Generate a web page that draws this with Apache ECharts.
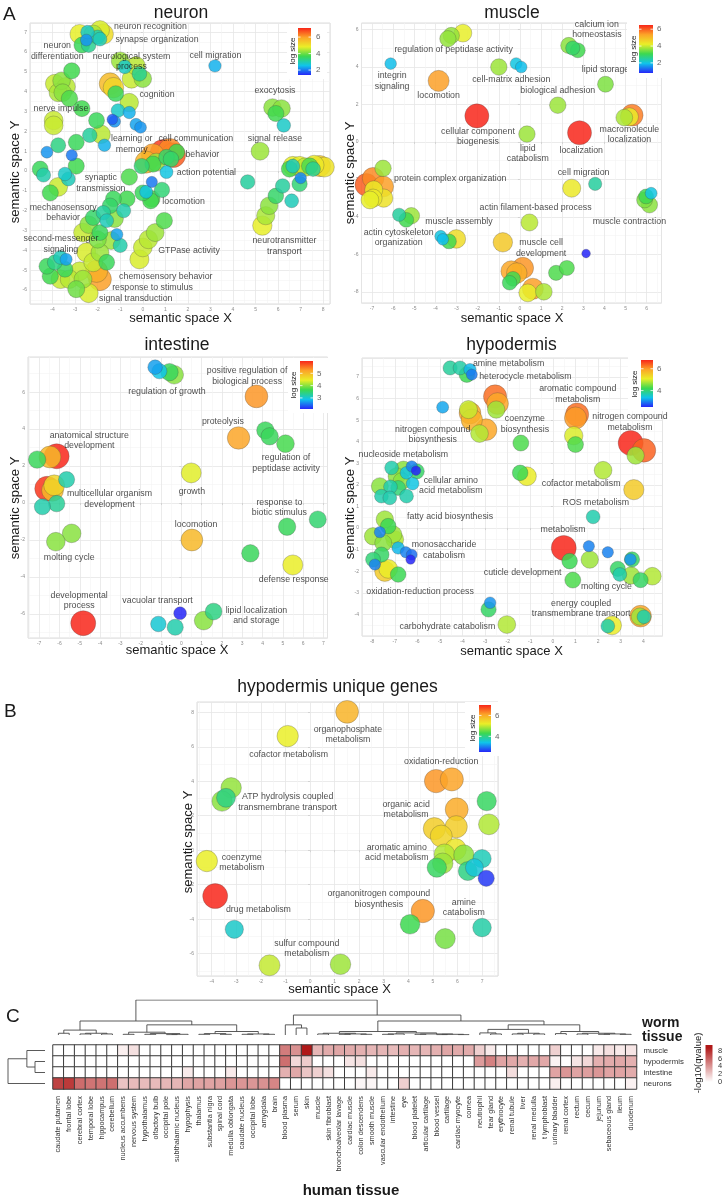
<!DOCTYPE html>
<html><head><meta charset="utf-8">
<script src="https://cdn.jsdelivr.net/npm/echarts/dist/echarts.min.js"></script>
<style>html,body{margin:0;padding:0;background:#fff}#c{width:723px;height:1199px}</style>
</head><body><div id="c"></div>
<script>
// ---------------- DATA ----------------
// semantic-space bubbles: [x, y, log size]
const neuronPoints = [
[-2.8,6.9,4.8],[-1.9,7.1,4.7],[-1.75,6.9,5.1],[-2.0,6.75,3.0],[-2.5,6.6,2.2],[-2.45,7.0,2.8],[-2.7,6.35,3.6],[-2.4,6.35,3.2],[-1.9,6.65,2.9],[-2.2,6.9,4.4],
[-1.0,5.55,4.3],[-0.8,5.25,2.8],[-0.15,4.9,3.2],[-0.5,4.65,4.6],[0.0,4.65,4.2],[-0.3,5.3,4.5],
[-3.15,5.05,3.7],[-3.9,4.4,4.6],[-3.6,4.55,4.2],[-3.4,4.25,4.5],[-3.55,3.95,4.2],[-3.25,3.65,3.8],[-3.75,3.95,4.4],
[-1.45,4.4,5.6],[-1.3,4.2,5.2],[-1.2,3.9,3.6],[-0.6,3.45,4.5],[-1.1,3.05,2.8],[-0.6,2.95,2.4],[-1.35,2.6,1.8],[-1.25,2.5,2.2],[-0.3,2.35,2.3],[-0.1,2.2,2.2],
[-2.7,3.15,3.7],[-3.95,2.55,4.6],[-3.95,2.3,4.6],[-2.05,2.55,3.6],[-1.85,1.85,4.5],[-2.35,1.8,3.1],[-2.95,1.45,3.6],[-3.75,1.3,3.3],[-4.25,0.95,2.2],[-3.15,0.8,2.0],[-1.7,1.3,2.4],
[0.45,0.8,6.0],[0.9,0.95,6.9],[1.35,0.8,6.6],[1.2,1.05,6.2],[0.15,0.45,5.7],[0.6,0.45,4.3],[1.05,0.7,3.5],[1.5,0.95,3.7],[-0.05,0.25,3.4],[0.45,0.35,3.7],[1.05,-0.05,2.6],[1.25,0.6,3.5],
[-4.55,0.1,3.6],[-4.4,-0.2,3.0],[-2.95,0.25,3.7],[-3.45,-0.15,2.8],[-3.3,-0.4,2.9],[-3.75,-0.8,4.6],[-4.1,-1.1,3.7],[-0.6,-0.3,3.8],
[0.4,-0.55,2.0],[0.15,-1.05,2.6],[0.85,-0.95,3.4],[0.0,-1.1,3.6],[0.4,-1.4,3.8],[0.35,-1.5,3.7],
[6.65,0.25,4.8],[6.95,0.25,4.8],[7.85,0.25,5.4],[8.05,0.2,5.0],[7.4,0.25,3.8],[6.65,0.25,2.9],[7.0,-0.35,2.1],[6.5,0.1,3.7],[7.55,0.1,3.2],[6.2,-0.75,3.1],[5.9,-1.25,3.5],[6.6,-1.5,2.9],[5.6,-1.75,4.2],[5.45,-2.25,4.4],[5.3,-2.75,4.8],[6.95,-0.65,3.4],[7.6,0.3,4.9],[7.2,0.2,4.5],
[5.75,3.2,4.2],[6.15,3.15,4.2],[5.9,2.9,3.7],[6.25,2.3,2.8],[5.2,1.0,4.3],[4.65,-0.55,3.1],[3.2,5.3,2.4],
[-1.3,-1.4,3.6],[-0.7,-1.4,3.7],[-1.45,-1.75,3.5],[-1.75,-2.1,3.1],[-0.85,-2.0,3.0],[-1.25,-2.4,4.2],[-2.2,-2.35,3.5],[-2.4,-2.7,4.2],[-1.6,-2.5,2.9],[-1.9,-3.1,3.6],[-2.65,-3.1,4.6],[-1.15,-3.2,2.3],[-1.0,-3.75,3.0],[-1.4,-3.5,4.3],[-2.0,-3.45,4.1],[-2.5,-4.1,4.7],[-1.9,-4.1,4.3],[-1.6,-4.6,3.6],[-3.4,-4.45,2.3],[-3.65,-4.35,2.9],[-3.9,-4.6,3.3],[-4.25,-4.8,3.6],[-4.1,-5.3,3.7],[-3.65,-5.45,4.6],[-3.45,-4.95,3.6],[-2.8,-5.05,4.6],[-3.25,-5.45,4.5],[-2.95,-5.95,4.0],[-2.4,-6.15,4.7],[-1.9,-5.45,6.0],[-2.05,-5.05,5.8],[-2.2,-4.6,4.6],[-2.65,-5.45,4.3],
[0.95,-2.5,3.8],[0.55,-3.1,4.3],[0.25,-3.45,4.5],[0.0,-3.85,4.6],[-0.15,-4.45,4.7]
];
const neuronLabels = [
[0.34,7.26,'neuron recognition'],[0.63,6.63,'synapse organization'],[-3.79,6.04,'neuron\ndifferentiation'],[-0.5,5.52,'neurological system\nprocess'],[3.22,5.82,'cell migration'],[5.86,4.06,'exocytosis'],[0.63,3.84,'cognition'],[-3.63,3.16,'nerve impulse'],[-0.49,1.36,'learning or\nmemory'],[2.35,1.65,'cell communication'],[5.86,1.65,'signal release'],[2.64,0.82,'behavior'],[2.82,-0.1,'action potential'],[-1.86,-0.61,'synaptic\ntransmission'],[-3.53,-2.09,'mechanosensory\nbehavior'],[1.81,-1.55,'locomotion'],[-3.63,-3.69,'second-messenger\nsignaling'],[2.05,-4.02,'GTPase activity'],[6.28,-3.77,'neurotransmitter\ntransport'],[1.02,-5.34,'chemosensory behavior'],[0.43,-5.88,'response to stimulus'],[-0.31,-6.43,'signal transduction']
];
const neuronRange = [1.4, 7.1];
const neuronTicks = [2, 4, 6];

const musclePoints = [
[-3.25,5.68,3.65],[-2.7,5.81,4.2],[-3.41,5.51,3.65],[2.31,5.15,3.6],[2.74,4.89,3.1],[2.5,5.01,2.9],[-6.12,4.18,1.9],[-1.0,4.0,3.7],[-0.18,4.18,2.0],[0.06,4.0,1.9],[-3.85,3.26,5.4],[4.05,3.08,3.5],[1.79,1.96,3.7],[-2.04,1.39,6.5],[5.31,1.43,5.7],[5.18,1.34,4.3],[4.94,1.3,3.8],[0.33,0.42,3.7],[2.82,0.49,6.5],
[-6.95,-1.94,5.6],[-6.48,-2.38,5.4],[-6.48,-1.41,3.7],[-6.92,-2.56,4.3],[-6.95,-3.0,4.3],[-6.45,-3.0,4.4],[-7.27,-2.29,6.0],[-7.1,-3.1,4.2],
[2.45,-2.47,4.3],[3.56,-2.24,2.5],[5.97,-2.91,3.1],[6.13,-3.36,3.6],[6.21,-2.74,2.0],[5.9,-3.1,3.5],[0.45,-4.3,3.9],[-5.14,-3.94,3.7],[-5.72,-3.89,2.5],[-5.38,-4.16,3.1],[-3.01,-5.18,4.5],[-3.36,-5.31,3.1],[-3.75,-5.04,2.0],[-3.65,-5.2,1.9],[-0.81,-5.36,4.8],[3.13,-5.96,0.8],
[-0.41,-6.9,5.3],[0.14,-6.73,5.5],[-0.15,-7.0,5.2],[-0.33,-7.31,3.1],[-0.49,-7.52,3.0],[0.61,-7.84,5.4],[0.37,-8.06,4.2],[1.13,-8.0,3.8],[1.71,-6.99,3.2],[2.22,-6.73,3.2]
];
const muscleLabels = [
[-3.14,4.92,'regulation of peptidase activity'],[3.64,6.0,'calcium ion\nhomeostasis'],[-6.05,3.24,'integrin\nsignaling'],[-0.41,3.34,'cell-matrix adhesion'],[4.05,3.86,'lipid storage'],[-3.85,2.49,'locomotion'],[1.79,2.72,'biological adhesion'],[-1.99,0.28,'cellular component\nbiogenesis'],[0.37,-0.61,'lipid\ncatabolism'],[2.9,-0.47,'localization'],[5.18,0.4,'macromolecule\nlocalization'],[-3.3,-1.98,'protein complex organization'],[3.01,-1.64,'cell migration'],[0.74,-3.48,'actin filament-based process'],[5.18,-4.24,'muscle contraction'],[-2.89,-4.24,'muscle assembly'],[-5.74,-5.1,'actin cytoskeleton\norganization'],[1.0,-5.66,'muscle cell\ndevelopment']
];
const muscleRange = [0.8, 6.5];
const muscleTicks = [2, 4, 6];

const intestinePoints = [
[-1.29,7.35,2.7],[-1.08,7.13,2.9],[-0.58,7.08,3.6],[-0.35,6.94,4.0],[3.7,5.77,5.3],[2.82,3.52,5.2],[4.14,3.93,3.6],[4.35,3.61,3.6],[5.13,3.21,3.7],[-7.1,2.35,3.6],[-6.14,2.53,6.0],[-6.47,2.49,5.0],[0.49,1.63,4.4],[-6.61,0.78,5.9],[-6.34,0.69,5.0],[-6.26,0.96,4.7],[-5.65,1.27,3.2],[-6.84,-0.2,3.2],[-6.14,-0.03,3.3],[6.72,-0.89,3.5],[5.21,-1.28,3.6],[-5.4,-1.64,4.0],[-6.18,-2.09,4.0],[0.52,-2.0,5.0],[3.4,-2.72,3.6],[5.49,-3.35,4.45],[-4.83,-6.5,6.0],[-0.06,-5.96,2.1],[-1.13,-6.54,3.0],[-0.3,-6.72,3.2],[1.1,-6.36,4.0],[1.59,-5.87,3.4]
];
const intestineLabels = [
[-0.71,6.04,'regulation of growth'],[3.24,6.86,'positive regulation of\nbiological process'],[2.05,4.42,'proteolysis'],[-4.53,3.39,'anatomical structure\ndevelopment'],[5.16,2.17,'regulation of\npeptidase activity'],[0.52,0.64,'growth'],[-3.54,0.21,'multicellular organism\ndevelopment'],[4.83,-0.24,'response to\nbiotic stimulus'],[0.73,-1.14,'locomotion'],[-5.52,-2.96,'molting cycle'],[5.54,-4.16,'defense response'],[-5.03,-5.28,'developmental\nprocess'],[-1.17,-5.3,'vacuolar transport'],[3.7,-6.09,'lipid localization\nand storage']
];
const intestineRange = [2.1, 6.0];
const intestineTicks = [3, 4, 5];

const hypodermisPoints = [
[-4.55,7.42,3.8],[-4.11,7.42,3.75],[-3.81,7.11,4.2],[-3.67,7.34,3.3],[-3.59,7.11,2.95],[-4.88,5.6,3.2],
[-2.56,6.1,6.3],[-2.45,5.77,5.9],[-2.51,5.49,4.7],[-3.67,5.33,5.9],[-3.74,5.49,4.9],[-3.59,5.02,5.8],[-2.96,4.56,5.9],[-3.25,4.38,4.8],[-1.42,3.94,4.3],
[1.07,5.26,6.3],[1.0,5.1,6.0],[0.92,4.28,5.0],[1.0,3.87,4.3],[3.44,3.94,6.8],[4.03,3.6,6.4],[3.66,3.36,4.7],
[-7.14,2.79,3.7],[-6.62,2.71,4.6],[-6.25,2.86,3.0],[-6.03,2.63,4.1],[-6.06,2.66,2.5],[-6.48,2.56,3.4],[-6.92,2.4,4.6],[-6.21,2.06,3.4],[-7.66,1.94,4.6],[-7.19,1.91,3.7],[-7.59,1.48,3.7],[-7.22,1.4,3.7],[-6.85,1.86,4.0],[-6.48,1.48,3.7],[-6.7,2.17,4.6],
[-1.45,2.56,4.2],[-1.15,2.4,5.1],[2.22,2.68,4.8],[3.58,1.78,5.5],[1.78,0.52,3.7],
[-7.44,0.4,4.7],[-7.29,0.09,4.2],[-7.96,-0.38,4.7],[-7.66,-0.19,3.0],[-7.07,-0.3,4.7],[-7.0,-0.53,4.8],[-7.51,-0.69,4.6],[-6.85,-0.92,3.3],[-6.51,-1.12,3.0],[-6.3,-1.46,2.5],[-6.25,-1.23,2.9],[-7.59,-1.23,4.1],[-7.96,-1.46,4.0],[-7.88,-1.69,3.0],[-7.44,-2.0,5.5],[-6.85,-2.15,4.2],[-7.29,-1.89,5.1],
[0.48,-0.92,6.8],[1.59,-0.84,3.0],[2.43,-1.12,3.0],[0.74,-1.53,4.2],[1.63,-1.46,4.7],[0.88,-2.41,4.3],
[3.5,-1.45,4.1],[3.43,-1.45,3.1],[2.87,-1.89,4.1],[2.96,-2.15,3.7],[3.46,-2.2,4.7],[3.88,-2.41,4.1],[4.4,-2.23,4.8],
[-2.78,-3.46,3.1],[-2.85,-3.77,4.1],[-2.04,-4.47,4.8],
[3.88,-4.08,5.9],[3.85,-4.1,4.7],[4.03,-4.11,3.7],[2.62,-4.51,5.1],[2.43,-4.54,3.7]
];
const hypodermisLabels = [
[-1.96,7.62,'amine metabolism'],[-1.22,7.0,'heterocycle metabolism'],[1.1,6.21,'aromatic compound\nmetabolism'],[-1.24,4.82,'coenzyme\nbiosynthesis'],[-5.32,4.33,'nitrogen compound\nbiosynthesis'],[3.41,4.92,'nitrogen compound\nmetabolism'],[-6.62,3.4,'nucleoside metabolism'],[-4.52,1.97,'cellular amino\nacid metabolism'],[1.25,2.05,'cofactor metabolism'],[1.9,1.17,'ROS metabolism'],[-4.55,0.55,'fatty acid biosynthesis'],[0.45,-0.07,'metabolism'],[-4.82,-1.02,'monosaccharide\ncatabolism'],[-1.34,-2.04,'cuticle development'],[2.37,-2.72,'molting cycle'],[-5.88,-2.92,'oxidation-reduction process'],[1.25,-3.73,'energy coupled\ntransmembrane transport'],[-4.67,-4.54,'carbohydrate catabolism']
];
const hypodermisRange = [2.5, 6.8];
const hypodermisTicks = [4, 6];

const uniquePoints = [
[1.51,8.03,5.9],[-0.91,6.62,5.2],[5.13,4.01,6.2],[5.77,4.11,6.1],[-3.21,3.62,4.75],[-3.58,2.85,4.7],[-3.42,3.04,4.0],[7.19,2.85,4.2],[5.97,2.37,6.0],[5.95,1.36,5.6],[5.06,1.25,5.6],[5.34,0.82,5.5],[7.28,1.5,4.9],[5.92,0.05,5.3],[5.47,-0.24,4.9],[6.26,-0.28,4.7],[5.4,-0.76,4.8],[5.16,-1.01,4.2],[6.42,-1.21,4.0],[7.0,-0.49,3.7],[6.69,-1.01,3.5],[7.17,-1.63,2.6],[-4.2,-0.63,5.2],[-3.86,-2.66,7.0],[4.59,-3.53,6.2],[4.07,-4.3,4.3],[5.5,-5.13,4.6],[7.0,-4.49,3.8],[-3.08,-4.59,3.6],[-1.65,-6.68,5.0],[1.24,-6.62,4.8]
];
const uniqueLabels = [
[1.54,6.72,'organophosphate\nmetabolism'],[-0.87,5.56,'cofactor metabolism'],[5.34,5.17,'oxidation-reduction'],[-0.91,2.79,'ATP hydrolysis coupled\ntransmembrane transport'],[3.91,2.37,'organic acid\nmetabolism'],[3.53,-0.14,'aromatic amino\nacid metabolism'],[-2.78,-0.72,'coenzyme\nmetabolism'],[2.8,-2.85,'organonitrogen compound\nbiosynthesis'],[6.26,-3.33,'amine\ncatabolism'],[-2.1,-3.43,'drug metabolism'],[-0.13,-5.71,'sulfur compound\nmetabolism']
];
const uniqueRange = [2.5, 7.0];
const uniqueTicks = [4, 6];

// heatmap (panel C)
const humanTissues = ['caudate putamen','frontal lobe','cerebral cortex','temporal lobe','hippocampus','cerebellum','nucleus accumbens','nervous system','hypothalamus','olfactory bulb','occipital pole','subthalamic nucleus','hypophysis','thalamus','substantia nigra','spinal cord','medulla oblongata','caudate nucleus','occipital lobe','amygdala','brain','blood plasma','serum','skin','muscle','skin fibroblast','bronchoalveolar lavage','cardiac muscle','colon descendens','smooth muscle','vascular endothelium','intestine','eye','blood platelet','articular cartilage','blood vessel','cartilage','cardiac myocyte','cornea','neutrophil','tear gland','erythrocyte','renal tubule','liver','renal medulla','t lymphoblast','urinary bladder','renal cortex','rectum','cecum','jejunum','sebaceous gland','ileum','duodenum'];
const wormTissues = ['muscle','hypodermis','intestine','neurons'];
const qMuscle     = [0,0,0,0,0,0,0.6,1.2,0,0,0,0,0,0,0,0,0,0,0,0,0, 5.0,4.2,8.8,2.8,3.2,3.4,3.2,3.0,2.8,2.8,2.6,3.0,2.8,2.8,3.0,3.4,3.2,3.2, 1.8,0.8,0,0,0,0,0,1.8,0,0,0,0.8,1.2,0.8,1.0];
const qHypodermis = [0,0,0,0,0,0,0,0,0,0,0,0,0,0,0,0,0,0,0,0,0, 5.5,1.5,2.0,0,0,0,1.0,1.2,0,0,0,0,0,0,0,0,0,0, 3.8,4.8,3.5,3.3,3.0,3.3,3.3,0.5,0,1.0,1.5,3.0,3.2,3.3,3.0];
const qIntestine  = [0,0,0,0,0,0,0,0,0,0,0,0,0.8,0,0,0,0.8,0,0,0,0, 3.0,3.3,2.2,1.8,1.2,0,0,0,0.8,0,0,0,0,0,0,0,0,0, 0,0,0,1.3,0,0,0,3.5,4.0,3.5,3.7,4.0,3.5,3.5,3.2];
const qNeurons    = [7.2,7.5,5.6,5.3,5.3,5.5,2.3,2.6,2.6,2.6,2.8,2.8,3.4,3.5,3.5,3.6,4.0,4.0,4.0,4.2,4.6, 0,0,0,0,0,0,0,0.4,0.4,0,0,1.8,0,0,0,0,0,0, 0,0,0,0,0,0,0,0.6,0,0,0,0,0,0,0.5];
const heatRange = [0, 8.8];
const heatTicks = [0, 2, 4, 6, 8];
// dendrograms: [height, left, right]; leaves are column / row indices
const colTree = [10,
  [4, [1.4, [0.5,0,1], [0.5,[0.3,2,3],[0.3,4,5]]],
      [2.9, [0.8,[0.2,6,7],[0.4,[0.2,8,9],[0.2,[0.1,10,11],12]]],
            [1.0,[0.4,[0.2,13,14],[0.2,15,16]],[0.3,[0.2,17,18],[0.2,19,20]]]]],
  [5.7, [2.9, 21, [2.0,22,23]],
        [4, [1.0,[0.5,[0.3,24,25],[0.3,[0.2,26,27],[0.2,28,29]]],[0.6,[0.3,[0.2,30,31],32],[0.3,[0.2,33,34],[0.2,[0.1,35,36],[0.1,37,38]]]]],
            [2.9,[1.6,[0.6,39,[0.3,40,41]],[0.5,[0.3,42,43],[0.3,44,45]]],[1.0,[0.4,46,47],[0.5,[0.3,48,49],[0.3,[0.2,50,51],[0.2,52,53]]]]]]]];
const rowTree = [10, [4.9, 0, [2.7, 1, 2]], 3];

// ---------------- LAYOUT / STYLE ----------------
const FONT = '"Liberation Sans", Arial, sans-serif';
const RAINBOW = ['#2626f8','#10c4ea','#3cd850','#eaee28','#fca428','#f8261a'];
const HEAT = ['#ffffff','#b01818'];

const panels = [
 {pts:neuronPoints, labels:neuronLabels, range:neuronRange, ticks:neuronTicks, title:'neuron',
  grid:{left:30,top:23,width:300,height:281}, xr:[-5,8.3], yr:[-6.7,7.46], xs:1, ys:1, size:[5.5,2.9],
  tp:[181,13], xn:[180.5,318], yn:[15,172], cb:{x:298,y:28,w:13,h:47,box:[287,24,40,55],lx:316,tx:293,ty:51}},
 {pts:musclePoints, labels:muscleLabels, range:muscleRange, ticks:muscleTicks, title:'muscle',
  grid:{left:361.5,top:23,width:300,height:280}, xr:[-7.5,6.7], yr:[-8.6,6.35], xs:1, ys:2, size:[6.5,2.7],
  tp:[512,13], xn:[512,318], yn:[350,173], cb:{x:639,y:25,w:14,h:48,box:[627,22,38,56],lx:657,tx:634,ty:49}},
 {pts:intestinePoints, labels:intestineLabels, range:intestineRange, ticks:intestineTicks, title:'intestine',
  grid:{left:28,top:357,width:299.5,height:281}, xr:[-7.55,7.2], yr:[-7.3,7.9], xs:1, ys:2, size:[6.1,3.15],
  tp:[177,345], xn:[177,650], yn:[15.5,508], cb:{x:300,y:361,w:13,h:48,box:[288,358,40,55],lx:317,tx:294,ty:385}},
 {pts:hypodermisPoints, labels:hypodermisLabels, range:hypodermisRange, ticks:hypodermisTicks, title:'hypodermis',
  grid:{left:362,top:358,width:300.5,height:278}, xr:[-8.45,4.85], yr:[-5.0,7.88], xs:1, ys:1, size:[0.5,3.6],
  tp:[511.5,345], xn:[511.5,651], yn:[350.5,508], cb:{x:641,y:360,w:12,h:47,box:[628,357,36,54],lx:657,tx:635,ty:384}},
 {pts:uniquePoints, labels:uniqueLabels, range:uniqueRange, ticks:uniqueTicks, title:'hypodermis unique genes',
  grid:{left:197,top:702,width:301,height:274}, xr:[-4.6,7.65], yr:[-7.3,8.6], xs:1, ys:2, size:[11,2],
  tp:[337.5,687], xn:[339.5,989], yn:[188,842], cb:{x:479,y:705,w:12,h:47,box:[465,702,34,54],lx:495,tx:472.5,ty:728}}
];

function valAxis(gi, r, step){
  return {type:'value', gridIndex:gi, min:r[0], max:r[1], minInterval:step, maxInterval:step,
    axisLine:{show:false}, axisTick:{show:true, length:2, lineStyle:{color:'#c8c8c8', width:0.7}},
    axisLabel:{fontSize:5, color:'#8c8c8c', margin:3, showMinLabel:false, showMaxLabel:false, fontFamily:FONT},
    splitLine:{show:true, lineStyle:{color:'#e6e6e6', width:0.8}},
    minorTick:{show:false, splitNumber:2}, minorSplitLine:{show:true, lineStyle:{color:'#f3f3f3', width:0.6}},
    nameMoveOverlap:false};
}

const grids = [], xAxes = [], yAxes = [], series = [], visualMaps = [], graphics = [];

function txt(x, y, text, size, o){
  o = o || {};
  const al = o.align || 'center';
  const el = {type:'text', x:x, y:y, z:100, silent:true,
    style:{text:text, fontSize:size, fontFamily:FONT, fontWeight:o.bold?'bold':'normal', fill:o.color||'#1a1a1a',
      textAlign:al, textVerticalAlign:'middle', align:al, verticalAlign:'middle'}};
  if (o.rot) el.rotation = Math.PI/2;
  return el;
}

panels.forEach((p, i) => {
  grids.push(Object.assign({show:true, borderColor:'#dcdcdc', borderWidth:1, backgroundColor:'#fff', containLabel:false, outerBoundsMode:'none'}, p.grid));
  xAxes.push(valAxis(i, p.xr, p.xs));
  yAxes.push(valAxis(i, p.yr, p.ys));
  const sorted = p.pts.slice().sort((a,b)=>b[2]-a[2]);
  const a = p.size[0], b = p.size[1];
  series.push({type:'scatter', xAxisIndex:i, yAxisIndex:i, data:sorted, clip:false,
    symbolSize:(d)=>a + b*d[2], silent:true, z:2,
    itemStyle:{opacity:0.85, borderColor:'rgba(70,70,70,0.55)', borderWidth:0.6}});
  series.push({type:'scatter', xAxisIndex:i, yAxisIndex:i, clip:false, silent:true, z:5,
    data:p.labels.map(l=>({name:l[2], value:[l[0], l[1]]})), symbolSize:1,
    itemStyle:{color:'rgba(0,0,0,0)'},
    label:{show:true, position:'inside', formatter:'{b}', color:'#1a1a1a', fontSize:8.8, fontFamily:FONT, lineHeight:10.5, align:'center', verticalAlign:'middle'}});
  visualMaps.push({type:'continuous', show:false, seriesIndex:2*i, dimension:2, min:p.range[0], max:p.range[1], inRange:{color:RAINBOW}});
  graphics.push(txt(p.tp[0], p.tp[1], p.title, 17.5));
  graphics.push(txt(p.xn[0], p.xn[1], 'semantic space X', 13));
  graphics.push(txt(p.yn[0], p.yn[1], 'semantic space Y', 13, {rot:true}));
  const cb = p.cb;
  graphics.push({type:'rect', z:90, silent:true, shape:{x:cb.box[0], y:cb.box[1], width:cb.box[2], height:cb.box[3]}, style:{fill:'#ffffff'}});
  graphics.push({type:'rect', z:95, silent:true, shape:{x:cb.x, y:cb.y, width:cb.w, height:cb.h},
    style:{fill:new echarts.graphic.LinearGradient(0,1,0,0, RAINBOW.map((c,k)=>({offset:k/(RAINBOW.length-1), color:c})))}});
  p.ticks.forEach(t => {
    const yy = cb.y + (p.range[1]-t)/(p.range[1]-p.range[0])*cb.h;
    graphics.push({type:'line', z:96, silent:true, shape:{x1:cb.x, y1:yy, x2:cb.x+2.5, y2:yy}, style:{stroke:'#fff', lineWidth:0.8}});
    graphics.push({type:'line', z:96, silent:true, shape:{x1:cb.x+cb.w-2.5, y1:yy, x2:cb.x+cb.w, y2:yy}, style:{stroke:'#fff', lineWidth:0.8}});
    graphics.push(txt(cb.lx, yy, String(t), 8, {align:'left', color:'#666'}));
  });
  graphics.push(txt(cb.tx, cb.ty, 'log size', 8, {rot:true}));
});

// heatmap grid (index 5)
grids.push({left:53, top:1045, width:583.5, height:44, containLabel:false, outerBoundsMode:'none'});
xAxes.push({type:'category', gridIndex:5, data:humanTissues, axisLine:{show:false}, axisTick:{show:false}, splitLine:{show:false},
  axisLabel:{rotate:90, interval:0, fontSize:7.3, color:'#333', margin:7, fontFamily:FONT}});
yAxes.push({type:'category', gridIndex:5, data:wormTissues, inverse:true, position:'right', axisLine:{show:false}, axisTick:{show:false}, splitLine:{show:false},
  axisLabel:{fontSize:7.8, color:'#333', margin:7, fontFamily:FONT}});
const heatData = [];
[qMuscle, qHypodermis, qIntestine, qNeurons].forEach((row, r) => row.forEach((v, c) => heatData.push([c, r, v])));
series.push({type:'heatmap', xAxisIndex:5, yAxisIndex:5, data:heatData, silent:true,
  itemStyle:{borderColor:'#3c3c3c', borderWidth:1}, emphasis:{disabled:true}});
visualMaps.push({type:'continuous', show:false, seriesIndex:10, dimension:2, min:heatRange[0], max:heatRange[1], inRange:{color:HEAT}});

// dendrogram grids
grids.push({left:53, top:1000, width:583.5, height:35, containLabel:false, outerBoundsMode:'none'});
xAxes.push({type:'value', gridIndex:6, min:0, max:humanTissues.length, show:false});
yAxes.push({type:'value', gridIndex:6, min:0, max:10, show:false});
grids.push({left:8, top:1045, width:37, height:44, containLabel:false, outerBoundsMode:'none'});
xAxes.push({type:'value', gridIndex:7, min:0, max:10, inverse:true, show:false});
yAxes.push({type:'value', gridIndex:7, min:0, max:wormTissues.length, inverse:true, show:false});

function layoutTree(node, segs){
  if (typeof node === 'number') return {p:node+0.5, h:0};
  const A = layoutTree(node[1], segs), B = layoutTree(node[2], segs);
  segs.push([A.p, A.h, B.p, B.h, node[0]]);
  return {p:(A.p+B.p)/2, h:node[0]};
}
const colSegs = [], rowSegs = [];
layoutTree(colTree, colSegs);
layoutTree(rowTree, rowSegs);
const dendroStyle = {color:'#474747', width:0.9, opacity:1};
series.push({type:'lines', coordinateSystem:'cartesian2d', xAxisIndex:6, yAxisIndex:6, polyline:true, silent:true, lineStyle:dendroStyle,
  data:colSegs.map(s=>({coords:[[s[0],s[1]],[s[0],s[4]],[s[2],s[4]],[s[2],s[3]]]}))});
series.push({type:'lines', coordinateSystem:'cartesian2d', xAxisIndex:7, yAxisIndex:7, polyline:true, silent:true, lineStyle:dendroStyle,
  data:rowSegs.map(s=>({coords:[[s[1],s[0]],[s[4],s[0]],[s[4],s[2]],[s[3],s[2]]]}))});

// heatmap colorbar
const hb = {x:705.5, y:1045, w:7, h:43, v0y:1082, pxPerUnit:3.9};
const offOf = v => Math.min(1, Math.max(0, (hb.v0y - v*hb.pxPerUnit - hb.y)/hb.h));
graphics.push({type:'rect', z:95, silent:true, shape:{x:hb.x, y:hb.y, width:hb.w, height:hb.h},
  style:{fill:new echarts.graphic.LinearGradient(0,0,0,1,[
    {offset:0, color:HEAT[1]}, {offset:offOf(heatRange[1]), color:HEAT[1]},
    {offset:offOf(heatRange[0]), color:HEAT[0]}, {offset:1, color:HEAT[0]}])}});
heatTicks.forEach(t => graphics.push(txt(718, hb.v0y - t*hb.pxPerUnit, String(t), 7.5, {align:'left', color:'#333'})));
graphics.push(txt(698, 1063, '-log10(qvalue)', 9.5, {rot:true}));
graphics.push(txt(642, 1023, 'worm', 14, {bold:true, align:'left'}));
graphics.push(txt(642, 1037, 'tissue', 14, {bold:true, align:'left'}));
graphics.push(txt(351, 1191, 'human tissue', 15, {bold:true}));
graphics.push(txt(3, 15, 'A', 19, {align:'left'}));
graphics.push(txt(4, 712, 'B', 19, {align:'left'}));
graphics.push(txt(6, 1017, 'C', 19, {align:'left'}));

const chart = echarts.init(document.getElementById('c'), null, {renderer:'canvas'});
chart.setOption({
  animation:false, backgroundColor:'#ffffff', textStyle:{fontFamily:FONT},
  grid:grids, xAxis:xAxes, yAxis:yAxes, visualMap:visualMaps, series:series,
  graphic:{elements:graphics}
});
</script></body></html>
